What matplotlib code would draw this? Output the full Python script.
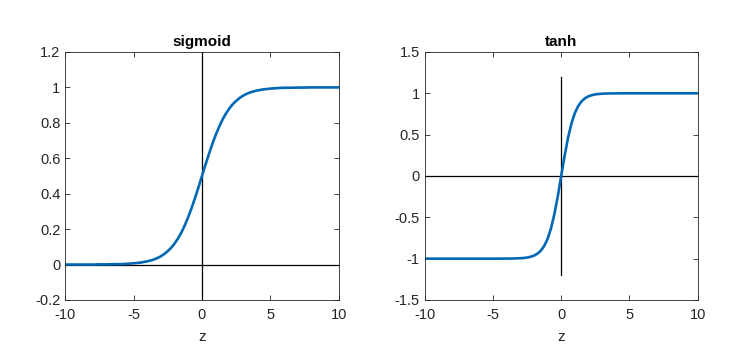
import matplotlib
matplotlib.use("Agg")
import matplotlib.pyplot as plt

# valores
z = [-10, -9.5, -9, -8.5, -8, -7.5, -7, -6.5, -6, -5.5, -5, -4.5,
     -4, -3.75, -3.5, -3.25, -3, -2.75, -2.5, -2.25, -2, -1.75, -1.5, -1.25,
     -1, -0.75, -0.5, -0.25, 0, 0.25, 0.5, 0.75, 1, 1.25, 1.5, 1.75,
     2, 2.25, 2.5, 2.75, 3, 3.25, 3.5, 3.75, 4,
     4.5, 5, 5.5, 6, 6.5, 7, 7.5, 8, 8.5, 9, 9.5, 10]

sigmoid = [0.000, 0.000, 0.000, 0.000, 0.000, 0.001, 0.001, 0.002, 0.002, 0.004, 0.007, 0.011,
           0.018, 0.023, 0.029, 0.037, 0.047, 0.060, 0.076, 0.095, 0.119, 0.148, 0.182, 0.223,
           0.269, 0.321, 0.378, 0.438, 0.500, 0.562, 0.622, 0.679, 0.731, 0.777, 0.818, 0.852,
           0.881, 0.905, 0.924, 0.940, 0.953, 0.963, 0.971, 0.977, 0.982,
           0.989, 0.993, 0.996, 0.998, 0.998, 0.999, 0.999, 1.000, 1.000, 1.000, 1.000, 1.000]

tanh = [-1.000, -1.000, -1.000, -1.000, -1.000, -1.000, -1.000, -1.000, -1.000, -1.000, -1.000, -1.000,
        -0.999, -0.999, -0.998, -0.997, -0.995, -0.992, -0.987, -0.978, -0.964, -0.941, -0.905, -0.848,
        -0.762, -0.635, -0.462, -0.245, 0.000, 0.245, 0.462, 0.635, 0.762, 0.848, 0.905, 0.941,
        0.964, 0.978, 0.987, 0.992, 0.995, 0.997, 0.998, 0.999, 0.999,
        1.000, 1.000, 1.000, 1.000, 1.000, 1.000, 1.000, 1.000, 1.000, 1.000, 1.000, 1.000]

x_ticks = [-10, -5, 0, 5, 10]
x_labels = ["-10", "-5", "0", "5", "10"]
sig_ticks = [-0.2, 0, 0.2, 0.4, 0.6, 0.8, 1, 1.2]
sig_labels = ["-0.2", "0", "0.2", "0.4", "0.6", "0.8", "1", "1.2"]
tanh_ticks = [-1.5, -1, -0.5, 0, 0.5, 1, 1.5]
tanh_labels = ["-1.5", "-1", "-0.5", "0", "0.5", "1", "1.5"]

# eixos de referência
sig_vline = [-0.2, 1.2]
tanh_vline = [-1.2, 1.2]
hline_x = [-10, 10]

plt.rcParams["font.family"] = ["Liberation Sans", "DejaVu Sans"]
plt.rcParams["font.size"] = 10.5

fig = plt.figure(figsize=(7.46, 3.55), dpi=100)
ax1 = fig.add_axes([0.0875, 0.155, 0.3665, 0.6986])
ax2 = fig.add_axes([0.5693, 0.155, 0.366, 0.6986])

azul = "#0068B4"
cinza = "#262626"

paineis = [
    (ax1, sigmoid, "sigmoid", sig_ticks, sig_labels, sig_vline),
    (ax2, tanh, "tanh", tanh_ticks, tanh_labels, tanh_vline),
]

for ax, y, titulo, yt, yl, vline in paineis:
    ax.plot(hline_x, [0, 0], color="black", linewidth=0.9)
    ax.plot([0, 0], vline, color="black", linewidth=0.9)
    ax.plot(z, y, color=azul, linewidth=1.9)
    ax.set_xlim(-10, 10)
    ax.set_ylim(yt[0], yt[-1])
    ax.set_xticks(x_ticks)
    ax.set_xticklabels(x_labels)
    ax.set_yticks(yt)
    ax.set_yticklabels(yl)
    ax.tick_params(direction="in", top=True, right=True, length=3.5,
                   width=0.6, color=cinza, labelcolor=cinza)
    ax.tick_params(axis="x", pad=6)
    ax.tick_params(axis="y", pad=3.5)
    for s in ax.spines.values():
        s.set_color(cinza)
        s.set_linewidth(0.6)
    ax.set_title(titulo, fontweight="bold", fontsize=11, pad=4.5)
    ax.set_xlabel("z", fontsize=11, labelpad=5.5, color=cinza)

fig.savefig("out.png", dpi=100)
